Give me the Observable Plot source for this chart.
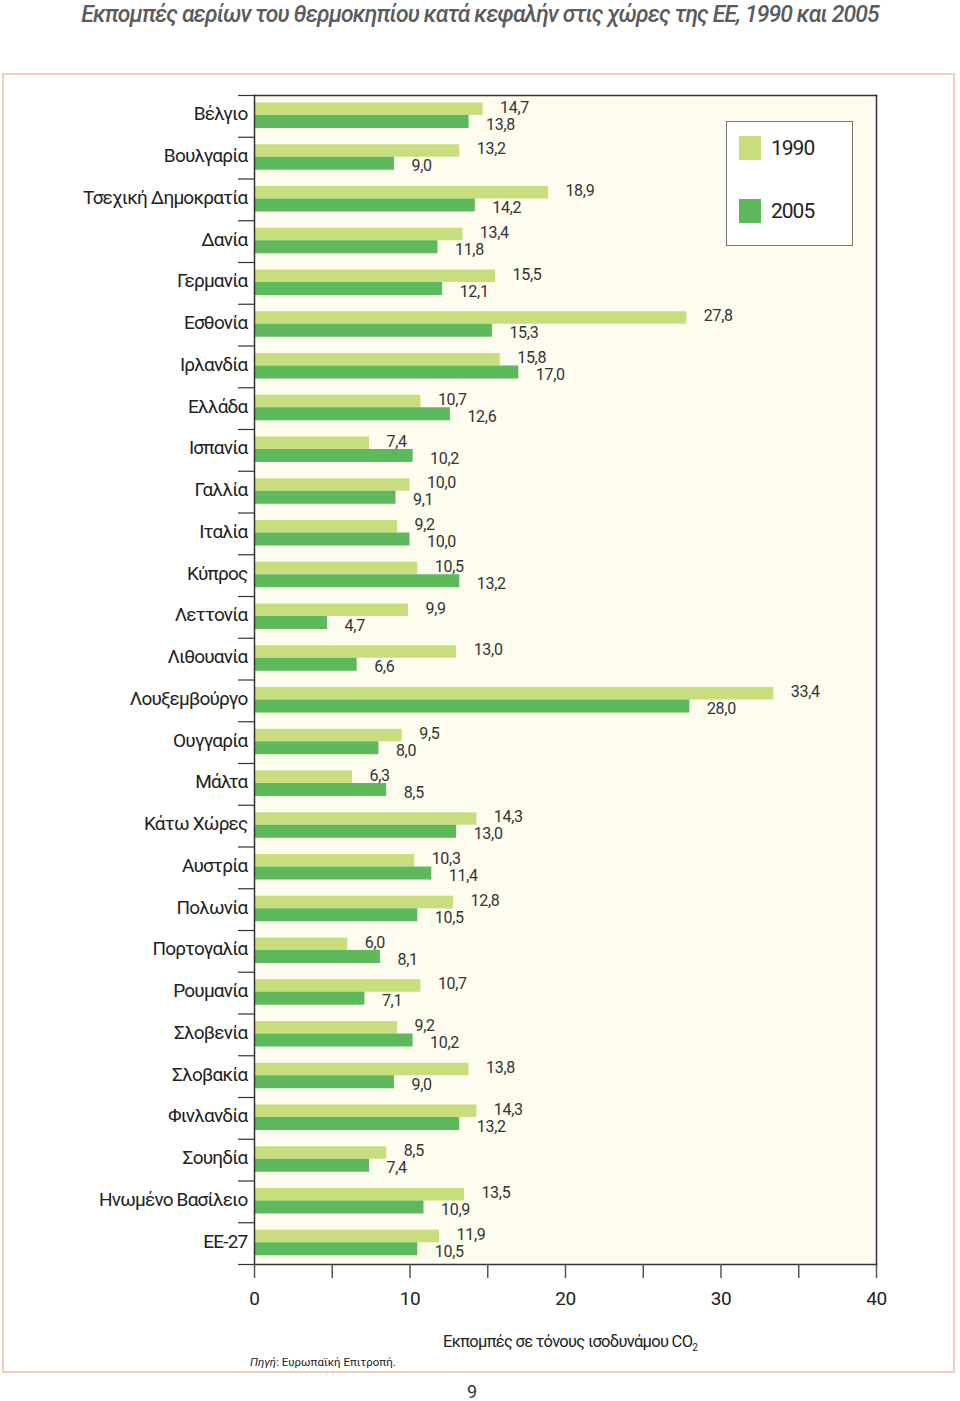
<!DOCTYPE html>
<html>
<head>
<meta charset="utf-8">
<script src="https://cdn.jsdelivr.net/npm/d3@7"></script>
<script src="https://cdn.jsdelivr.net/npm/@observablehq/plot@0.6"></script>
<style>
  html, body { margin: 0; padding: 0; background: #fff; }
  #page { position: relative; width: 960px; height: 1401px; font-family: Roboto, "Noto Sans", sans-serif; color: #333; overflow: hidden; }
  #title { position: absolute; left: 0; top: 0; width: 960px; text-align: center; font-size: 23px; font-style: italic; font-weight: 500; color: #5b5b5b; letter-spacing: -0.9px; line-height: 30px; }
  #frame { position: absolute; left: 2px; top: 73px; width: 949px; height: 1296px; border: 2px solid #f4cdbb; }
  #chart { position: absolute; left: 0; top: 73px; }
  #legend { position: absolute; left: 726px; top: 121px; width: 125px; height: 123px; border: 1.5px solid #777; background: #fff; }
  .lg { position: absolute; left: 12px; display: flex; align-items: center; font-size: 21px; color: #222; letter-spacing: -1px; }
  .sw { width: 22px; height: 24px; margin-right: 10px; }
  #xtitle { position: absolute; left: 443px; top: 1332px; font-size: 16.5px; color: #222; letter-spacing: -0.7px; }
  #xtitle sub { font-size: 10px; }
  #source { position: absolute; left: 250px; top: 1355px; font-size: 11.5px; color: #222; }
  #pagenum { position: absolute; left: 467px; top: 1381px; font-size: 18px; color: #333; }
  #chart svg text { letter-spacing: -0.3px; }
  #chart svg g.ylab text { letter-spacing: -0.8px; }
</style>
</head>
<body>
<div id="page">
  <div id="title">Εκπομπές αερίων του θερμοκηπίου κατά κεφαλήν στις χώρες της ΕΕ, 1990 και 2005</div>
  <div id="frame"></div>
  <div id="chart"></div>
  <div id="legend">
    <div class="lg" style="top:14px"><div class="sw" style="background:#c8dd7d"></div>1990</div>
    <div class="lg" style="top:77px"><div class="sw" style="background:#5db95b"></div>2005</div>
  </div>
  <div id="xtitle">Εκπομπές σε τόνους ισοδυνάμου CO<sub>2</sub></div>
  <div id="source"><i>Πηγή</i>: Ευρωπαϊκή Επιτροπή.</div>
  <div id="pagenum">9</div>
</div>
<script>
const countries = ["Βέλγιο","Βουλγαρία","Τσεχική Δημοκρατία","Δανία","Γερμανία","Εσθονία","Ιρλανδία","Ελλάδα","Ισπανία","Γαλλία","Ιταλία","Κύπρος","Λεττονία","Λιθουανία","Λουξεμβούργο","Ουγγαρία","Μάλτα","Κάτω Χώρες","Αυστρία","Πολωνία","Πορτογαλία","Ρουμανία","Σλοβενία","Σλοβακία","Φινλανδία","Σουηδία","Ηνωμένο Βασίλειο","ΕΕ-27"];
const values1990 = [14.7,13.2,18.9,13.4,15.5,27.8,15.8,10.7,7.4,10.0,9.2,10.5,9.9,13.0,33.4,9.5,6.3,14.3,10.3,12.8,6.0,10.7,9.2,13.8,14.3,8.5,13.5,11.9];
const values2005 = [13.8,9.0,14.2,11.8,12.1,15.3,17.0,12.6,10.2,9.1,10.0,13.2,4.7,6.6,28.0,8.0,8.5,13.0,11.4,10.5,8.1,7.1,10.2,9.0,13.2,7.4,10.9,10.5];
const xTicksMinor = [0,5,10,15,20,25,30,35,40];
const xTicksMajor = [0,10,20,30,40];

const data1990 = countries.map((c, i) => ({country: c, value: values1990[i]}));
const data2005 = countries.map((c, i) => ({country: c, value: values2005[i]}));
const fmt = v => d3.format(".1f")(v).replace(".", ",");

const H = 1300, mTop = 22, mBottom = 109;
const step = (H - mTop - mBottom) / countries.length;

const chart = Plot.plot({
  width: 960,
  height: H,
  marginLeft: 254,
  marginRight: 84,
  marginTop: mTop,
  marginBottom: mBottom,
  x: {domain: [0, 40]},
  y: {domain: countries, padding: 0, round: false},
  style: {fontFamily: "Roboto, 'Noto Sans', sans-serif", background: "transparent", color: "#333"},
  marks: [
    Plot.frame({fill: "#fdfcef", stroke: null}),
    Plot.barX(data1990, {x: "value", y: "country", fill: "#c8dd7d", insetTop: 7.5, insetBottom: step - 20}),
    Plot.barX(data2005, {x: "value", y: "country", fill: "#5db95b", insetTop: 20, insetBottom: step - 33}),
    Plot.text(data1990, {x: "value", y: "country", text: d => fmt(d.value), dx: 17, dy: -9, textAnchor: "start", fontSize: 16, fill: "#333"}),
    Plot.text(data2005, {x: "value", y: "country", text: d => fmt(d.value), dx: 17, dy: 8, textAnchor: "start", fontSize: 16, fill: "#333"}),
    Plot.frame({anchor: "top", stroke: "#333", strokeWidth: 1.5}),
    Plot.frame({anchor: "right", stroke: "#333", strokeWidth: 1.5}),
    Plot.frame({anchor: "left", stroke: "#333", strokeWidth: 1.5}),
    Plot.frame({anchor: "bottom", stroke: "#333", strokeWidth: 1.5}),
    Plot.axisY({tickSize: 16, tickFormat: () => "", dy: -step / 2, stroke: "#333", strokeWidth: 1.2, label: null}),
    Plot.axisY({ticks: [countries[countries.length - 1]], tickSize: 16, tickFormat: () => "", dy: step / 2, stroke: "#333", strokeWidth: 1.2, label: null}),
    Plot.axisY({tickSize: 0, tickPadding: 7, fontSize: 19, dy: -2, fill: "#222", label: null, className: "ylab"}),
    Plot.axisX({ticks: xTicksMinor, tickSize: 14, tickFormat: () => "", stroke: "#555", strokeWidth: 1.5, label: null}),
    Plot.axisX({ticks: xTicksMajor, tickSize: 0, tickPadding: 27, fontSize: 19, fill: "#222", label: null})
  ]
});
document.getElementById("chart").appendChild(chart);
</script>
</body>
</html>
